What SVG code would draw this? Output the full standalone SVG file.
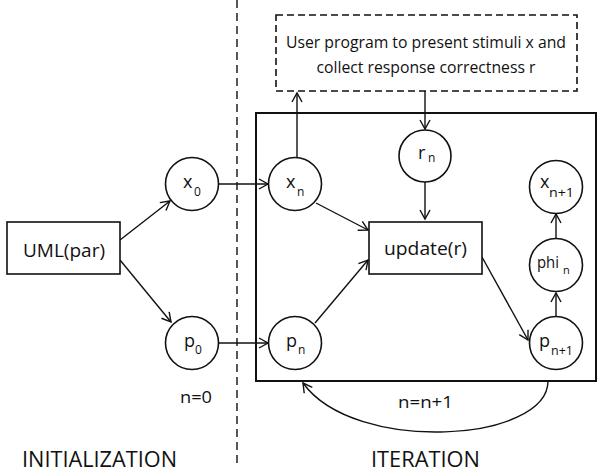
<svg xmlns="http://www.w3.org/2000/svg" width="604" height="476" viewBox="0 0 604 476">
<defs>
<marker id="arr" markerUnits="userSpaceOnUse" markerWidth="20" markerHeight="20" refX="0" refY="0" viewBox="-10 -10 20 20" orient="auto" overflow="visible">
<path d="M-9,-5 L0,0 L-9,5" fill="none" stroke="#111" stroke-width="1.4"/>
</marker>
<style>
text{font-family:"Open Sans","Liberation Sans",sans-serif;fill:#111;}
.node{fill:#fff;stroke:#111;stroke-width:1.6;}
.box{fill:#fff;stroke:#111;stroke-width:1.6;}
.m{font-size:18px;}
.s{font-size:12px;}
.c{stroke:#111;stroke-width:1.4;fill:none;marker-end:url(#arr);}
.lbl{font-size:17px;}
.big{font-size:22px;}
</style>
</defs>
<rect width="604" height="476" fill="#fff"/>
<line x1="237" y1="0" x2="237" y2="468" stroke="#111" stroke-width="1.4" stroke-dasharray="8,5"/>
<g id="iteration-frame"><rect x="256" y="113" width="340" height="268" fill="none" stroke="#111" stroke-width="2"/></g>
<g id="userprogram">
<rect x="276" y="15" width="301" height="76" fill="#fff" stroke="#111" stroke-width="1.6" stroke-dasharray="7,4"/>
<text x="426" y="48" text-anchor="middle" font-size="16" textLength="280" lengthAdjust="spacingAndGlyphs">User program to present stimuli x and</text>
<text x="426" y="73" text-anchor="middle" font-size="16" textLength="219" lengthAdjust="spacingAndGlyphs">collect response correctness r</text>
</g>
<g id="connectors">
<line class="c" x1="120" y1="240" x2="170" y2="201"/>
<line class="c" x1="120" y1="260" x2="171" y2="322"/>
<line class="c" x1="219" y1="184" x2="268" y2="184"/>
<line class="c" x1="219" y1="343" x2="268" y2="343"/>
<line class="c" x1="297" y1="158" x2="297" y2="93"/>
<line class="c" x1="425" y1="91" x2="425" y2="129"/>
<line class="c" x1="425" y1="182" x2="425" y2="219"/>
<line class="c" x1="316" y1="203" x2="368" y2="230"/>
<line class="c" x1="315" y1="323" x2="368" y2="260"/>
<line class="c" x1="482" y1="257" x2="528" y2="340"/>
<line class="c" x1="556" y1="317" x2="556" y2="293"/>
<line class="c" x1="556" y1="238" x2="556" y2="214"/>
<path class="c" d="M548,381 C548,442 355,455 303,383"/>
</g>
<g id="uml"><rect class="box" x="7" y="222" width="113" height="52"/><text x="64" y="257" font-size="19" text-anchor="middle" textLength="82" lengthAdjust="spacingAndGlyphs">UML(par)</text></g>
<g id="update"><rect class="box" x="369" y="222" width="113" height="52"/><text x="425.5" y="255" font-size="19" text-anchor="middle" textLength="83" lengthAdjust="spacingAndGlyphs">update(r)</text></g>
<g id="x0"><circle class="node" cx="192" cy="184" r="26.5"/><text class="m" x="183" y="188">x</text><text class="s" x="194" y="196">0</text></g>
<g id="p0"><circle class="node" cx="192" cy="343" r="26.5"/><text class="m" x="184" y="347">p</text><text class="s" x="195" y="354">0</text></g>
<g id="xn"><circle class="node" cx="295" cy="184" r="26.5"/><text class="m" x="286" y="188">x</text><text class="s" x="297" y="196">n</text></g>
<g id="pn"><circle class="node" cx="295" cy="343" r="26.5"/><text class="m" x="286" y="347">p</text><text class="s" x="298" y="354">n</text></g>
<g id="rn"><circle class="node" cx="425" cy="156" r="26"/><text class="m" x="418" y="159">r</text><text class="s" x="428" y="162">n</text></g>
<g id="xn1"><circle class="node" cx="556" cy="187" r="26.5"/><text class="m" x="540" y="188">x</text><text class="s" x="549" y="197" textLength="25" lengthAdjust="spacingAndGlyphs">n+1</text></g>
<g id="phin"><circle class="node" cx="556" cy="265" r="26.5"/><text x="537" y="268" font-size="17" textLength="22" lengthAdjust="spacingAndGlyphs">phi</text><text x="563" y="274" font-size="11">n</text></g>
<g id="pn1"><circle class="node" cx="556" cy="343" r="26.5"/><text class="m" x="539" y="347">p</text><text class="s" x="551" y="355" textLength="22" lengthAdjust="spacingAndGlyphs">n+1</text></g>
<text class="lbl" x="180" y="403" textLength="32" lengthAdjust="spacingAndGlyphs">n=0</text>
<text class="lbl" x="398" y="408" textLength="55" lengthAdjust="spacingAndGlyphs">n=n+1</text>
<text class="big" x="22" y="467" textLength="155" lengthAdjust="spacingAndGlyphs">INITIALIZATION</text>
<text class="big" x="371" y="467" textLength="109" lengthAdjust="spacingAndGlyphs">ITERATION</text>
</svg>
